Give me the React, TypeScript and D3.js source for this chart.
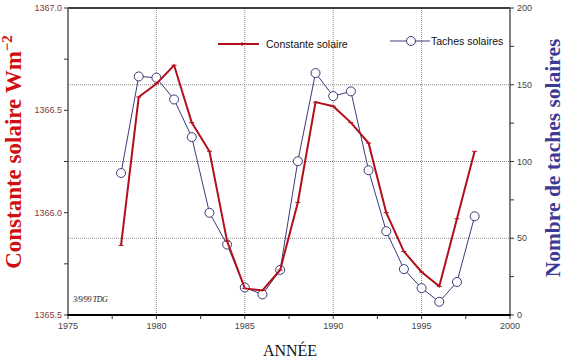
import React from "react";
import * as d3 from "d3";

const years = [1978,1979,1980,1981,1982,1983,1984,1985,1986,1987,1988,1989,1990,1991,1992,1993,1994,1995,1996,1997,1998];
const solarConstant = [1365.84,1366.565,1366.63,1366.72,1366.44,1366.30,1365.86,1365.63,1365.62,1365.72,1366.05,1366.54,1366.52,1366.44,1366.34,1366.00,1365.81,1365.71,1365.64,1365.97,1366.30];
const sunspots = [92.5,155.4,154.6,140.4,115.9,66.6,45.9,17.9,13.4,29.4,100.2,157.6,142.6,145.7,94.3,54.6,29.9,17.5,8.6,21.5,64.3];
const xTickLabels = [1975,1980,1985,1990,1995,2000];
const leftTickLabels = [1365.5,1366.0,1366.5,1367.0];
const rightTickLabels = [0,50,100,150,200];

const RED = "#b0101a";
const BLUE = "#3a3a7a";
const TITLE_BLUE = "#3b3b96";

export default function App() {
  const L = 68, R = 510, T = 8, B = 315;
  const x = d3.scaleLinear().domain([1975, 2000]).range([L, R]);
  const yL = d3.scaleLinear().domain([1365.5, 1367.0]).range([B, T]);
  const yR = d3.scaleLinear().domain([0, 200]).range([B, T]);

  const redLine = d3.line<number>().x((_, i) => x(years[i])).y((d) => yL(d));
  const blueLine = d3.line<number>().x((_, i) => x(years[i])).y((d) => yR(d));

  const xMinor = d3.range(1975, 2000.01, 2.5);
  const leftMinor = d3.range(1365.5, 1367.01, 0.25);
  const rightMinor = d3.range(0, 200.1, 25);
  const vGrid = [1980, 1985, 1990, 1995];
  const hGrid = [50, 100, 150];

  return (
    <svg width={565} height={360} style={{ position: "absolute", left: 0, top: 0, background: "#fff" }}>
      {/* grid */}
      {vGrid.map((g) => (
        <line key={"vg" + g} x1={x(g)} x2={x(g)} y1={T} y2={B} stroke="#888" strokeWidth={1} strokeDasharray="1,1" />
      ))}
      {hGrid.map((g) => (
        <line key={"hg" + g} x1={L} x2={R} y1={yR(g)} y2={yR(g)} stroke="#888" strokeWidth={1} strokeDasharray="1,1" />
      ))}
      {/* frame */}
      <line x1={L} x2={R} y1={T} y2={T} stroke="#000" strokeWidth={1.5} />
      <line x1={L} x2={L} y1={T} y2={B + 1} stroke="#555" strokeWidth={1.5} />
      <line x1={R} x2={R} y1={T} y2={B + 1} stroke="#555" strokeWidth={1.5} />
      <line x1={L - 1} x2={R + 1} y1={B} y2={B} stroke="#000" strokeWidth={2} />
      {/* x ticks */}
      {xMinor.map((t) => (
        <line key={"xt" + t} x1={x(t)} x2={x(t)} y1={B} y2={B + 4} stroke="#333" strokeWidth={1} />
      ))}
      {xTickLabels.map((t) => (
        <text key={"xl" + t} x={x(t)} y={B + 14} textAnchor="middle" fontFamily="Arial, Liberation Sans, sans-serif" fontSize={9} fill="#444">{t}</text>
      ))}
      {/* left ticks */}
      {leftMinor.map((t) => (
        <line key={"lt" + t} x1={L - 4} x2={L} y1={yL(t)} y2={yL(t)} stroke="#333" strokeWidth={1} />
      ))}
      {leftTickLabels.map((t) => (
        <text key={"ll" + t} x={L - 6} y={yL(t) + 3} textAnchor="end" fontFamily="Arial, Liberation Sans, sans-serif" fontSize={9} fill="#8a3a3a">{t.toFixed(1)}</text>
      ))}
      {/* right ticks */}
      {rightMinor.map((t) => (
        <line key={"rt" + t} x1={R} x2={R + 4} y1={yR(t)} y2={yR(t)} stroke="#333" strokeWidth={1} />
      ))}
      {rightTickLabels.map((t) => (
        <text key={"rl" + t} x={R + 7} y={yR(t) + 3} textAnchor="start" fontFamily="Arial, Liberation Sans, sans-serif" fontSize={9} fill="#444">{t}</text>
      ))}
      {/* sunspot series */}
      <path d={blueLine(sunspots) || ""} fill="none" stroke={BLUE} strokeWidth={1} />
      {sunspots.map((v, i) => (
        <circle key={"c" + i} cx={x(years[i])} cy={yR(v)} r={4.5} fill="#fff" stroke={BLUE} strokeWidth={1} />
      ))}
      {/* solar constant series */}
      <path d={redLine(solarConstant) || ""} fill="none" stroke={RED} strokeWidth={2} />
      {solarConstant.map((v, i) => (
        <line key={"m" + i} x1={x(years[i]) - 2.5} x2={x(years[i]) + 2.5} y1={yL(v)} y2={yL(v)} stroke={RED} strokeWidth={1} />
      ))}
      {/* legend */}
      <line x1={218} x2={259} y1={44} y2={44} stroke={RED} strokeWidth={2} />
      <line x1={242} x2={242} y1={42} y2={46} stroke={RED} strokeWidth={1} />
      <text x={266} y={48} fontFamily="Arial, Liberation Sans, sans-serif" fontSize={10.5} fill="#111">Constante solaire</text>
      <line x1={390} x2={430} y1={41} y2={41} stroke={BLUE} strokeWidth={1} />
      <circle cx={411} cy={41} r={4.5} fill="#fff" stroke={BLUE} strokeWidth={1} />
      <text x={431} y={45} fontFamily="Arial, Liberation Sans, sans-serif" fontSize={10.5} fill="#111">Taches solaires</text>
      {/* stamp */}
      <text x={73} y={302} fontFamily="Liberation Serif, serif" fontStyle="italic" fontSize={8} fill="#222" letterSpacing={-0.4}>3/9/99 TDG</text>
      {/* titles */}
      <text transform={`translate(21,152) rotate(-90)`} textAnchor="middle" fontFamily="Liberation Serif, Times New Roman, serif" fontWeight="bold" fontSize={23} fill="#d01010">
        Constante solaire Wm<tspan dy={-9} fontSize={15}>−2</tspan>
      </text>
      <text transform={`translate(560,158) rotate(-90)`} textAnchor="middle" fontFamily="Liberation Serif, Times New Roman, serif" fontWeight="bold" fontSize={21.5} fill={TITLE_BLUE}>
        Nombre de taches solaires
      </text>
      <text x={290} y={356} textAnchor="middle" fontFamily="Liberation Serif, Times New Roman, serif" fontSize={16} fill="#111">ANNÉE</text>
    </svg>
  );
}
